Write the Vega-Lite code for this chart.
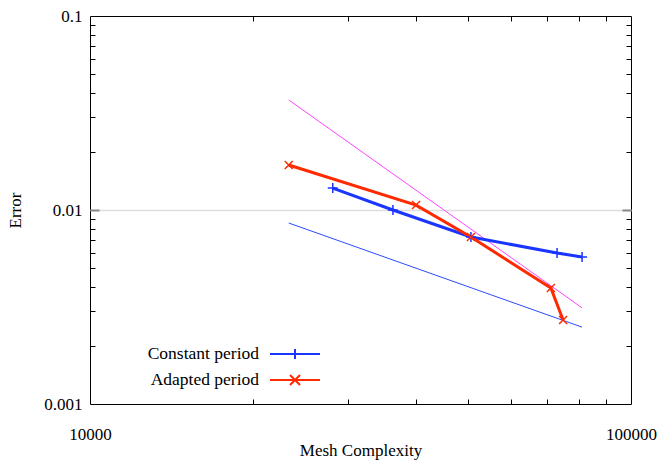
{
  "$schema": "https://vega.github.io/schema/vega-lite/v6.json",
  "width": 541,
  "height": 388,
  "autosize": {"type": "none"},
  "padding": {"left": 90, "top": 16, "right": 27, "bottom": 59},
  "background": "white",
  "config": {
    "view": {"stroke": "black", "strokeWidth": 1},
    "font": "Liberation Serif",
    "axis": {"labelFont": "Liberation Serif", "titleFont": "Liberation Serif", "labelFontSize": 17, "titleFontSize": 17, "titleFontWeight": "normal", "labelColor": "black", "titleColor": "black", "domain": false, "grid": false, "labelOverlap": false, "labelFlush": false, "labelBound": false}
  },
  "data": {"values": [
    {"series": "Constant period", "x": 28100, "y": 0.01297},
    {"series": "Constant period", "x": 36300, "y": 0.0100},
    {"series": "Constant period", "x": 50600, "y": 0.00726},
    {"series": "Constant period", "x": 73000, "y": 0.0060},
    {"series": "Constant period", "x": 81200, "y": 0.00573},
    {"series": "Adapted period", "x": 23300, "y": 0.01706},
    {"series": "Adapted period", "x": 40060, "y": 0.0106},
    {"series": "Adapted period", "x": 50600, "y": 0.00726},
    {"series": "Adapted period", "x": 71100, "y": 0.00396},
    {"series": "Adapted period", "x": 74900, "y": 0.00271},
    {"series": "refA", "x": 23300, "y": 0.0369},
    {"series": "refA", "x": 81200, "y": 0.00313},
    {"series": "refB", "x": 23300, "y": 0.00857},
    {"series": "refB", "x": 81200, "y": 0.00249}
  ]},
  "layer": [
    {
      "transform": [{"filter": "datum.series === 'refA'"}],
      "mark": {"type": "line", "color": "#ff44ff", "strokeWidth": 1},
      "encoding": {
        "x": {"field": "x", "type": "quantitative", "scale": {"type": "log", "domain": [10000, 100000], "nice": false},
          "axis": {"orient": "bottom", "values": [10000, 100000], "format": "d", "ticks": false, "labelPadding": 22, "title": "Mesh Complexity", "titlePadding": 0}},
        "y": {"field": "y", "type": "quantitative", "scale": {"type": "log", "domain": [0.001, 0.1], "nice": false},
          "axis": {"orient": "left", "values": [0.001, 0.01, 0.1], "format": "~g", "ticks": false, "labelPadding": 8, "title": "Error", "titlePadding": 19, "grid": true, "gridColor": "#dedede", "gridWidth": 1.5, "gridOpacity": {"condition": {"test": "datum.value == 0.01", "value": 1}, "value": 0}}}
      }
    },
    {
      "transform": [{"filter": "datum.series === 'refB'"}],
      "mark": {"type": "line", "color": "#2a4cff", "strokeWidth": 1},
      "encoding": {
        "x": {"field": "x", "type": "quantitative", "scale": {"type": "log", "domain": [10000, 100000], "nice": false},
          "axis": {"orient": "bottom", "values": [20000, 30000, 40000, 50000, 60000, 70000, 80000, 90000], "labels": false, "title": null, "tickSize": -5, "tickColor": "black", "tickWidth": 1}},
        "y": {"field": "y", "type": "quantitative", "scale": {"type": "log", "domain": [0.001, 0.1], "nice": false},
          "axis": {"orient": "left", "values": [0.002, 0.003, 0.004, 0.005, 0.006, 0.007, 0.008, 0.009, 0.01, 0.02, 0.03, 0.04, 0.05, 0.06, 0.07, 0.08, 0.09], "labels": false, "title": null, "tickSize": {"condition": {"test": "datum.value == 0.01", "value": -9}, "value": -5}, "tickColor": {"condition": {"test": "datum.value == 0.01", "value": "#888888"}, "value": "black"}, "tickWidth": {"condition": {"test": "datum.value == 0.01", "value": 2}, "value": 1}}}
      }
    },
    {
      "transform": [{"filter": "datum.series === 'Constant period' || datum.series === 'Adapted period'"}],
      "mark": {"type": "line", "strokeWidth": 3},
      "encoding": {
        "x": {"field": "x", "type": "quantitative", "scale": {"type": "log", "domain": [10000, 100000], "nice": false},
          "axis": {"orient": "top", "values": [20000, 30000, 40000, 50000, 60000, 70000, 80000, 90000], "labels": false, "title": null, "tickSize": -5, "tickColor": "black", "tickWidth": 1}},
        "y": {"field": "y", "type": "quantitative", "scale": {"type": "log", "domain": [0.001, 0.1], "nice": false},
          "axis": {"orient": "right", "values": [0.002, 0.003, 0.004, 0.005, 0.006, 0.007, 0.008, 0.009, 0.01, 0.02, 0.03, 0.04, 0.05, 0.06, 0.07, 0.08, 0.09], "labels": false, "title": null, "tickSize": {"condition": {"test": "datum.value == 0.01", "value": -9}, "value": -5}, "tickColor": {"condition": {"test": "datum.value == 0.01", "value": "#888888"}, "value": "black"}, "tickWidth": {"condition": {"test": "datum.value == 0.01", "value": 2}, "value": 1}}},
        "color": {"field": "series", "type": "nominal", "sort": ["Constant period", "Adapted period"],
          "scale": {"domain": ["Constant period", "Adapted period"], "range": ["#1a35ff", "#ff2a00"]},
          "legend": {"orient": "none", "legendX": 194, "legendY": 327, "title": null, "labelFont": "Liberation Serif", "labelFontSize": 17.5, "labelColor": "black", "labelAlign": "right", "labelOffset": -47, "symbolType": "M-2.5,0H2.5", "symbolSize": 400, "symbolStrokeWidth": 2, "rowPadding": 6,
            "encode": {"symbols": {"update": {"shape": {"signal": "datum.value === 'Constant period' ? 'M-2.5,0H2.5M0,-0.5V0.5' : 'M-2.5,0H2.5M-0.5,-0.5L0.5,0.5M-0.5,0.5L0.5,-0.5'"}}}}}}
      }
    },
    {
      "transform": [{"filter": "datum.series === 'Constant period'"}],
      "mark": {"type": "point", "shape": "M-1,0H1M0,-1V1", "filled": false, "color": "#1a35ff", "strokeWidth": 1.5, "size": 100, "opacity": 1},
      "encoding": {
        "x": {"field": "x", "type": "quantitative", "scale": {"type": "log", "domain": [10000, 100000], "nice": false}, "axis": null},
        "y": {"field": "y", "type": "quantitative", "scale": {"type": "log", "domain": [0.001, 0.1], "nice": false}, "axis": null}
      }
    },
    {
      "transform": [{"filter": "datum.series === 'Adapted period'"}],
      "mark": {"type": "point", "shape": "M-1,-1L1,1M-1,1L1,-1", "filled": false, "color": "#ff2a00", "strokeWidth": 1.5, "size": 64, "opacity": 1},
      "encoding": {
        "x": {"field": "x", "type": "quantitative", "scale": {"type": "log", "domain": [10000, 100000], "nice": false}, "axis": null},
        "y": {"field": "y", "type": "quantitative", "scale": {"type": "log", "domain": [0.001, 0.1], "nice": false}, "axis": null}
      }
    }
  ],
  "resolve": {"axis": {"x": "independent", "y": "independent"}}
}
